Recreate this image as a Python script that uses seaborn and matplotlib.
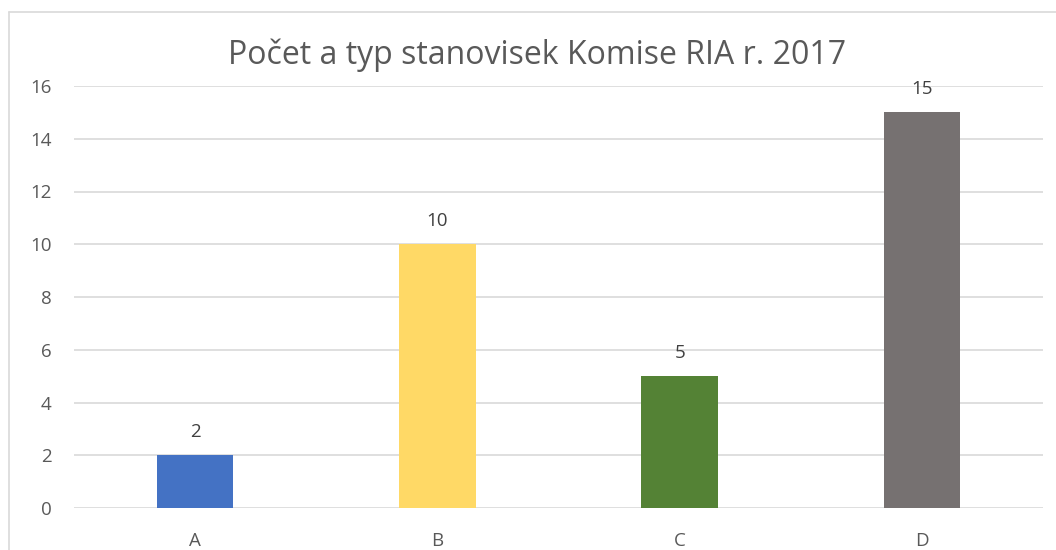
import seaborn as sns
import matplotlib.pyplot as plt
from matplotlib.lines import Line2D
import pandas as pd

kategorie = ["A", "B", "C", "D"]
pocty = [2, 10, 5, 15]
barvy = ["#4472C4", "#FFD966", "#548235", "#767171"]
titulek = "Počet a typ stanovisek Komise RIA r. 2017"

sns.set_style("white")
plt.rcParams['font.family'] = ['Open Sans', 'DejaVu Sans']

df = pd.DataFrame({"kat": kategorie, "pocet": pocty})

fig = plt.figure(figsize=(10.56, 5.5), dpi=100)
ax = fig.add_axes([74 / 1056, 1 - 508 / 550, (1043 - 74) / 1056, (508 - 86) / 550])

sns.barplot(data=df, x="kat", y="pocet", hue="kat", palette=barvy,
            width=0.315, saturation=1, linewidth=0, legend=False, ax=ax, zorder=3)

for i, v in enumerate(pocty):
    ax.text(i, v + 0.55, str(v), ha="center", va="bottom", fontsize=13.5, color="#404040")

ax.set_ylim(0, 16)
ax.set_yticks(range(0, 17, 2))
ax.set_xlim(-0.5, 3.5)
ax.grid(axis="y", color="#D9D9D9", linewidth=1.2, zorder=0)
for s in ax.spines.values():
    s.set_visible(False)
ax.tick_params(axis="both", length=0, labelsize=13.5, colors="#595959")
ax.tick_params(axis="y", pad=16)
ax.tick_params(axis="x", pad=17)
ax.set_xlabel("")
ax.set_ylabel("")

fig.text(537 / 1056, 1 - 55 / 550, titulek, ha="center", va="center",
         fontsize=23, color="#595959")

# ramecek grafu
fig.add_artist(Line2D([9 / 1056, 9 / 1056], [0, 1 - 12 / 550], color="#D9D9D9", lw=1.2))
fig.add_artist(Line2D([9 / 1056, 1], [1 - 12 / 550, 1 - 12 / 550], color="#D9D9D9", lw=1.2))

plt.savefig("out.png", dpi=100)
